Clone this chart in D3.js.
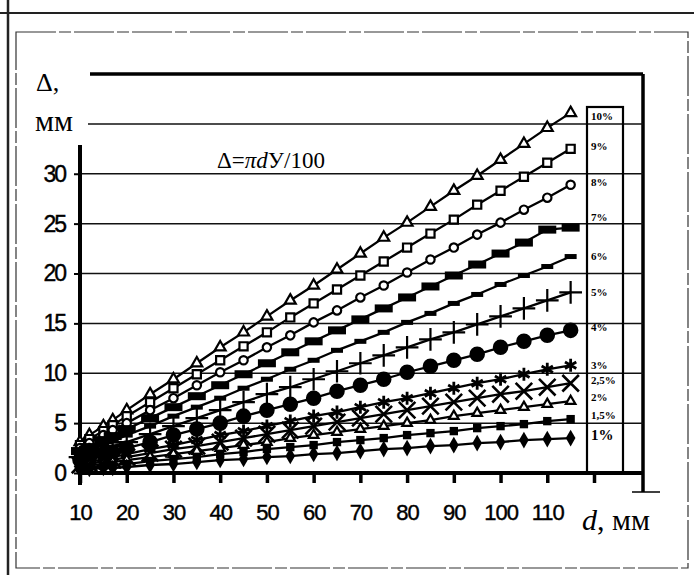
<!DOCTYPE html>
<html>
<head>
<meta charset="utf-8">
<script src="https://cdn.jsdelivr.net/npm/d3@7"></script>
<style>
  body { margin: 0; background: #fff; }
  svg { display: block; }
  .tick text { font-family: "Liberation Sans", Arial, sans-serif; fill: #000; stroke: #000; stroke-width: 0.4; }
</style>
</head>
<body>
<svg id="chart" width="694" height="575"></svg>
<script>
// d, mm
const diam = [10, 12, 15, 17, 20, 25, 30, 35, 40, 45, 50, 55, 60, 65, 70, 75, 80, 85, 90, 95, 100, 105, 110, 115];

// Δ, mm for every slope
const s10  = [3.1, 3.8, 4.7, 5.3, 6.3, 7.9, 9.4, 11.0, 12.6, 14.1, 15.7, 17.3, 18.8, 20.4, 22.0, 23.6, 25.1, 26.7, 28.3, 29.8, 31.4, 33.0, 34.6, 36.1];
const s9   = [2.8, 3.4, 4.2, 4.8, 5.7, 7.1, 8.5, 9.9, 11.3, 12.7, 14.1, 15.6, 17.0, 18.4, 19.8, 21.2, 22.6, 24.0, 25.4, 26.9, 28.3, 29.7, 31.1, 32.5];
const s8   = [2.5, 3.0, 3.8, 4.3, 5.0, 6.3, 7.5, 8.8, 10.1, 11.3, 12.6, 13.8, 15.1, 16.3, 17.6, 18.8, 20.1, 21.4, 22.6, 23.9, 25.1, 26.4, 27.6, 28.9];
const s7   = [2.2, 2.6, 3.3, 3.7, 4.4, 5.5, 6.6, 7.7, 8.8, 9.9, 11.0, 12.1, 13.2, 14.3, 15.4, 16.5, 17.6, 18.7, 19.8, 20.9, 22.0, 23.1, 24.4, 24.6];
const s6   = [1.9, 2.3, 2.8, 3.2, 3.8, 4.7, 5.7, 6.6, 7.5, 8.5, 9.4, 10.4, 11.3, 12.3, 13.2, 14.1, 15.1, 16.0, 17.0, 17.9, 18.9, 19.8, 20.7, 21.7];
const s5   = [1.6, 1.9, 2.4, 2.7, 3.1, 3.9, 4.7, 5.5, 6.3, 7.1, 7.9, 8.6, 9.4, 10.2, 11.0, 11.8, 12.6, 13.4, 14.1, 14.9, 15.7, 16.5, 17.3, 18.1];
const s4   = [1.3, 1.5, 1.9, 2.1, 2.5, 3.1, 3.8, 4.4, 5.0, 5.7, 6.3, 6.9, 7.5, 8.2, 8.8, 9.4, 10.1, 10.7, 11.3, 11.9, 12.6, 13.2, 13.8, 14.3];
const s3   = [0.9, 1.1, 1.4, 1.6, 1.9, 2.4, 2.8, 3.3, 3.8, 4.2, 4.7, 5.2, 5.7, 6.1, 6.6, 7.1, 7.5, 8.0, 8.5, 9.0, 9.4, 9.9, 10.4, 10.8];
const s2_5 = [0.8, 0.9, 1.2, 1.3, 1.6, 2.0, 2.4, 2.7, 3.1, 3.5, 3.9, 4.3, 4.7, 5.1, 5.5, 5.9, 6.3, 6.7, 7.1, 7.5, 7.9, 8.2, 8.6, 9.0];
const s2   = [0.6, 0.8, 0.9, 1.1, 1.3, 1.6, 1.9, 2.2, 2.5, 2.8, 3.1, 3.5, 3.8, 4.1, 4.4, 4.7, 5.0, 5.3, 5.7, 6.0, 6.3, 6.6, 6.9, 7.2];
const s1_5 = [0.5, 0.6, 0.7, 0.8, 0.9, 1.2, 1.4, 1.6, 1.9, 2.1, 2.4, 2.6, 2.8, 3.1, 3.3, 3.5, 3.8, 4.0, 4.2, 4.5, 4.7, 4.9, 5.2, 5.4];
const s1   = [0.3, 0.4, 0.5, 0.5, 0.6, 0.8, 0.9, 1.1, 1.3, 1.4, 1.6, 1.7, 1.9, 2.0, 2.2, 2.4, 2.5, 2.7, 2.8, 3.0, 3.1, 3.3, 3.4, 3.5];

const seriesLabels = ["10%", "9%", "8%", "7%", "6%", "5%", "4%", "3%", "2,5%", "2%", "1,5%", "1%"];
const seriesValues = [s10, s9, s8, s7, s6, s5, s4, s3, s2_5, s2, s1_5, s1];
const markerKinds  = ["tri", "sq", "circ", "bar", "dash", "plus", "dot", "star", "times", "tri2", "fsq", "diam"];

const yTicks = [0, 5, 10, 15, 20, 25, 30];
const xTicks = [10, 20, 30, 40, 50, 60, 70, 80, 90, 100, 110, 120];

const svg = d3.select("#chart");

const x = d3.scaleLinear().domain([10, 120]).range([80, 594]);
const y = d3.scaleLinear().domain([0, 40]).range([473, 74]);

// page frame (scan edges)
svg.append("line").attr("x1", 0).attr("x2", 694).attr("y1", 13).attr("y2", 13)
    .attr("stroke", "#222").attr("stroke-width", 2);
svg.append("line").attr("x1", 8).attr("x2", 8).attr("y1", 0).attr("y2", 575)
    .attr("stroke", "#222").attr("stroke-width", 2.5);
svg.append("rect").attr("x", 16).attr("y", 32).attr("width", 672).attr("height", 536)
    .attr("fill", "none").attr("stroke", "#333").attr("stroke-width", 1.2)
    .attr("stroke-dasharray", "40,3,12,3");

// chart box: thick top and right edges
svg.append("line").attr("x1", 90).attr("x2", 643).attr("y1", y(40)).attr("y2", y(40))
    .attr("stroke", "#000").attr("stroke-width", 3.5);
svg.append("line").attr("x1", 643).attr("x2", 643).attr("y1", y(40)).attr("y2", 492)
    .attr("stroke", "#000").attr("stroke-width", 3.5);
svg.append("line").attr("x1", 632).attr("x2", 660).attr("y1", 492).attr("y2", 492)
    .attr("stroke", "#000").attr("stroke-width", 1.5);

// gridlines
svg.append("g").selectAll("line")
    .data([5, 10, 15, 20, 25, 30, 35])
    .enter().append("line")
    .attr("x1", d => d === 35 ? 88 : x(10)).attr("x2", 643)
    .attr("y1", d => y(d)).attr("y2", d => y(d))
    .attr("stroke", "#111").attr("stroke-width", 1.5);

// legend column
svg.append("rect").attr("x", 587).attr("y", 107).attr("width", 36).attr("height", y(0) - 107)
    .attr("fill", "none").attr("stroke", "#000").attr("stroke-width", 2.2);

// axes
const xAxis = svg.append("g").attr("transform", `translate(0,${y(0)})`)
    .call(d3.axisBottom(x).tickValues(xTicks).tickSize(10).tickPadding(21)
        .tickFormat(d => d === 120 ? "" : d));
xAxis.select(".domain").remove();
xAxis.selectAll(".tick line").attr("stroke", "#000").attr("stroke-width", 3.5);
xAxis.selectAll(".tick text").attr("font-size", 22).attr("letter-spacing", -1);
svg.append("line").attr("x1", x(10)).attr("x2", 643).attr("y1", y(0)).attr("y2", y(0))
    .attr("stroke", "#000").attr("stroke-width", 4);

const yAxis = svg.append("g").attr("transform", `translate(${x(10)},0)`)
    .call(d3.axisLeft(y).tickValues(yTicks).tickSize(6).tickPadding(9));
yAxis.select(".domain").remove();
yAxis.selectAll(".tick line").attr("stroke", "#000").attr("stroke-width", 2);
yAxis.selectAll(".tick text").attr("font-size", 23).attr("letter-spacing", -2);
svg.append("line").attr("x1", x(10)).attr("x2", x(10)).attr("y1", 145).attr("y2", y(0) + 12)
    .attr("stroke", "#000").attr("stroke-width", 4);

// axis titles
svg.append("text").attr("x", 36).attr("y", 91).text("Δ,")
    .attr("font-family", "Liberation Serif, serif").attr("font-size", 26).attr("fill", "#000");
svg.append("text").attr("x", 35).attr("y", 131).text("мм")
    .attr("font-family", "Liberation Serif, serif").attr("font-size", 30).attr("fill", "#000");
const xt = svg.append("text").attr("x", 582).attr("y", 530)
    .attr("font-family", "Liberation Serif, serif").attr("font-size", 30).attr("fill", "#000");
xt.append("tspan").attr("font-style", "italic").text("d");
xt.append("tspan").text(", мм");

// formula
const ft = svg.append("text").attr("x", 217).attr("y", 168)
    .attr("font-family", "Liberation Serif, serif").attr("font-size", 23).attr("fill", "#000");
ft.append("tspan").text("Δ=");
ft.append("tspan").attr("font-style", "italic").text("πd");
ft.append("tspan").text("У/100");

// lines
const line = d3.line().x((d, i) => x(diam[i])).y(d => y(d));
svg.append("g").selectAll("path")
    .data(seriesValues)
    .enter().append("path")
    .attr("d", line)
    .attr("fill", "none").attr("stroke", "#000").attr("stroke-width", 2.3);

// markers
function drawMarker(g, kind) {
    const sym = (type, size) => d3.symbol().type(type).size(size)();
    if (kind === "bar") {
        g.append("rect").attr("x", -9).attr("y", -4).attr("width", 18).attr("height", 8).attr("fill", "#000");
    } else if (kind === "dash") {
        g.append("rect").attr("x", -6).attr("y", -2.5).attr("width", 12).attr("height", 5).attr("fill", "#000");
    } else if (kind === "tri") {
        g.append("path").attr("d", sym(d3.symbolTriangle2, 85)).attr("fill", "#fff").attr("stroke", "#000").attr("stroke-width", 2.2);
    } else if (kind === "tri2") {
        g.append("path").attr("d", sym(d3.symbolTriangle2, 65)).attr("fill", "#fff").attr("stroke", "#000").attr("stroke-width", 2.2);
    } else if (kind === "sq") {
        g.append("path").attr("d", sym(d3.symbolSquare2, 85)).attr("fill", "#fff").attr("stroke", "#000").attr("stroke-width", 2.2);
    } else if (kind === "circ") {
        g.append("path").attr("d", sym(d3.symbolCircle, 55)).attr("fill", "#fff").attr("stroke", "#000").attr("stroke-width", 2.2);
    } else if (kind === "plus") {
        g.append("path").attr("d", sym(d3.symbolPlus, 170)).attr("fill", "none").attr("stroke", "#000").attr("stroke-width", 2.2);
    } else if (kind === "dot") {
        g.append("path").attr("d", sym(d3.symbolCircle, 190)).attr("fill", "#000");
    } else if (kind === "star") {
        g.append("path").attr("d", sym(d3.symbolAsterisk, 120)).attr("fill", "none").attr("stroke", "#000").attr("stroke-width", 2.8);
    } else if (kind === "times") {
        g.append("path").attr("d", sym(d3.symbolTimes, 180)).attr("fill", "none").attr("stroke", "#000").attr("stroke-width", 2.6);
    } else if (kind === "fsq") {
        g.append("path").attr("d", sym(d3.symbolSquare, 70)).attr("fill", "#000");
    } else if (kind === "diam") {
        g.append("path").attr("d", sym(d3.symbolDiamond, 80)).attr("fill", "#000");
    }
}

seriesValues.forEach((vals, si) => {
    svg.append("g").selectAll("g")
        .data(vals)
        .enter().append("g")
        .attr("transform", (d, i) => `translate(${x(diam[i])},${y(d)})`)
        .each(function () { drawMarker(d3.select(this), markerKinds[si]); });
});

// legend labels
const legendY = [120, 150, 186, 221, 260, 296, 331, 369, 384, 401, 419, 440];
svg.append("g").selectAll("text")
    .data(seriesLabels)
    .enter().append("text")
    .attr("x", 591)
    .attr("y", (d, i) => legendY[i])
    .attr("font-family", "Liberation Serif, serif")
    .attr("font-weight", "bold")
    .attr("font-size", d => d === "1%" ? 15 : 11)
    .attr("fill", "#000")
    .text(d => d);
</script>
</body>
</html>
